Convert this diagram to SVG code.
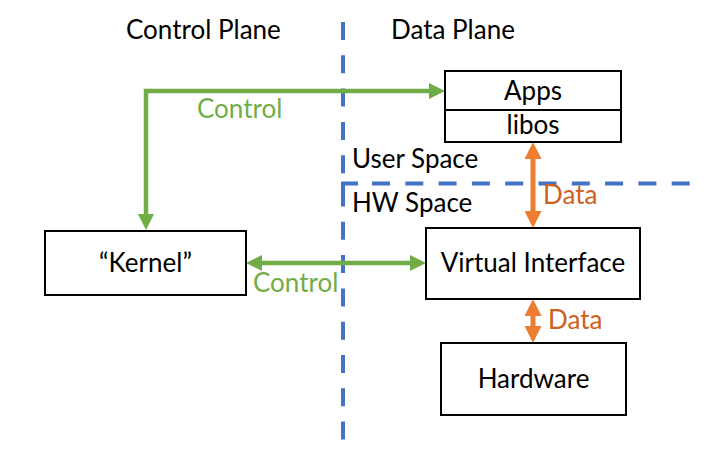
<svg xmlns="http://www.w3.org/2000/svg" width="709" height="467" viewBox="0 0 709 467">
  <style>
    text { font-family: Lato, "Liberation Sans", sans-serif; font-size: 26px; fill: #000; }
    .box { fill: #fff; stroke: #000; stroke-width: 2; }
    .mid { text-anchor: middle; }
    .green { fill: #70AD47; }
    .orange { fill: #CF6020; }
    .dash { fill: none; stroke: #4472C4; stroke-width: 4; stroke-dasharray: 18 15.3; }
    .corner { fill: none; stroke: #4472C4; stroke-width: 4; }
    .ctl { fill: none; stroke: #70AD47; stroke-width: 4.5; marker-start: url(#gArrow); marker-end: url(#gArrow); }
    .dat { fill: none; stroke: #ED7D31; stroke-width: 5; marker-start: url(#oArrow); marker-end: url(#oArrow); }
  </style>
  <defs>
    <marker id="gArrow" viewBox="0 0 16 16" markerWidth="16" markerHeight="16" markerUnits="userSpaceOnUse" refX="2" refY="8" orient="auto-start-reverse">
      <path d="M0,0 L16,8 L0,16 z" fill="#70AD47"/>
    </marker>
    <marker id="oArrow" viewBox="0 0 17 17" markerWidth="17" markerHeight="17" markerUnits="userSpaceOnUse" refX="2" refY="8.5" orient="auto-start-reverse">
      <path d="M0,0 L17,8.5 L0,17 z" fill="#ED7D31"/>
    </marker>
  </defs>
  <rect width="709" height="467" fill="#fff"/>

  <g id="regions">
    <path class="dash" d="M343,22 V453"/>
    <path class="corner" d="M343,200 V183.5 H358"/>
    <path class="dash" d="M372,183.5 H690"/>
    <text x="126" y="39">Control Plane</text>
    <text x="391" y="39">Data Plane</text>
    <text x="352" y="168">User Space</text>
    <text x="352" y="212">HW Space</text>
  </g>

  <g id="connectors">
    <path class="ctl" d="M146,216 V91 H431"/>
    <text class="green" x="197" y="118">Control</text>
    <path class="ctl" d="M260,263 H412"/>
    <text class="green" x="253" y="292">Control</text>
    <path class="dat" d="M533,157 V213"/>
    <text class="orange" x="543" y="204">Data</text>
    <path class="dat" d="M533,314 V328"/>
    <text class="orange" x="548" y="329">Data</text>
  </g>

  <g id="apps">
    <rect class="box" x="445" y="71" width="176" height="71"/>
    <line x1="445" y1="110" x2="621" y2="110" stroke="#000" stroke-width="2"/>
    <text class="mid" x="533" y="100">Apps</text>
    <text class="mid" x="533" y="134">libos</text>
  </g>

  <g id="kernel">
    <rect class="box" x="45" y="231" width="201" height="64"/>
    <text class="mid" x="145.5" y="272">“Kernel”</text>
  </g>

  <g id="virtual-interface">
    <rect class="box" x="426" y="228" width="214" height="71"/>
    <text class="mid" x="533" y="272">Virtual Interface</text>
  </g>

  <g id="hardware">
    <rect class="box" x="441" y="343" width="185" height="72"/>
    <text class="mid" x="533.5" y="388">Hardware</text>
  </g>
</svg>
